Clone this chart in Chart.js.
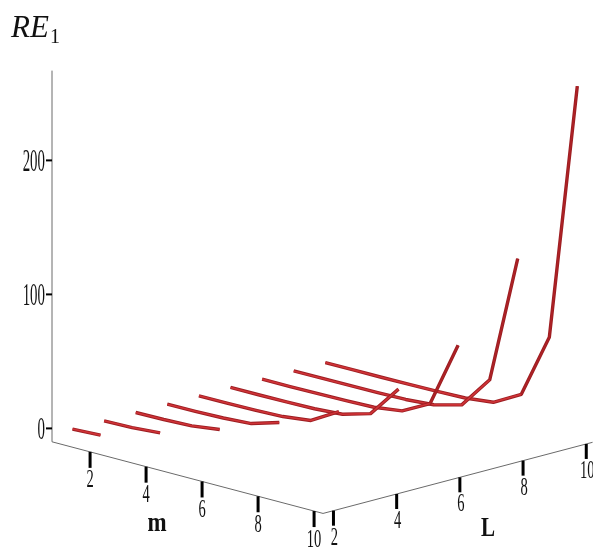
<!DOCTYPE html>
<html><head><meta charset="utf-8">
<script src="https://cdn.jsdelivr.net/npm/chart.js@4"></script>
<style>html,body{margin:0;padding:0;background:#fff}canvas{display:block}</style>
</head><body>
<canvas id="c" width="593" height="547" style="width:593px;height:547px"></canvas>
<script>
// ---- data ----
const L_VALUES = [2, 3, 4, 5, 6, 7, 8, 9, 10];
const RE1_L2  = [0.2, 1.2];
const RE1_L3  = [0.1, 0.6, 2.2];
const RE1_L4  = [0.1, 0.4, 1.2, 4];
const RE1_L5  = [0.1, 0.3, 0.8, 2.2, 8.5];
const RE1_L6  = [0.1, 0.2, 0.5, 1.2, 3.8, 16];
const RE1_L7  = [0.1, 0.2, 0.4, 0.8, 2.2, 8.2, 32];
const RE1_L8  = [0.1, 0.1, 0.3, 0.6, 1.2, 4, 15, 64];
const RE1_L9  = [0, 0.1, 0.2, 0.4, 0.8, 2.4, 7.8, 32, 128];
const RE1_L10 = [0, 0.1, 0.1, 0.3, 0.6, 1.2, 3.5, 15, 63, 256];
const RE1_BY_L = [RE1_L2, RE1_L3, RE1_L4, RE1_L5, RE1_L6, RE1_L7, RE1_L8, RE1_L9, RE1_L10];
const Z_TICKS = [0, 100, 200];
const M_TICKS = [2, 4, 6, 8, 10];
const L_TICKS = [2, 4, 6, 8, 10];
const M_RANGE = [0.64, 10.32];
const L_RANGE = [1.67, 10.2];
const Z_RANGE = [-10, 267];

// ---- view (oblique 3D projection onto the hidden linear scales) ----
const VIEW = {ox: 52, oy: 441.8, mx: 28, my: 7.4, lx: 31.6, ly: -8.34, zy: 1.34, ribbonDy: 1};
function project(m, L, z) {
  const dm = m - M_RANGE[0], dl = L - L_RANGE[0], dz = z - Z_RANGE[0];
  return {x: VIEW.ox + dm * VIEW.mx + dl * VIEW.lx,
          y: VIEW.oy + dm * VIEW.my + dl * VIEW.ly - dz * VIEW.zy};
}

const datasets = [];
L_VALUES.forEach((L, i) => {
  const vals = RE1_BY_L[i];
  const pts = vals.map((z, k) => { const p = project(k + 1, L, z); return {x: p.x, y: p.y + VIEW.ribbonDy}; });
  datasets.push({data: pts, showLine: true, borderColor: '#9c1e22', borderWidth: 3.4,
    pointRadius: 0, fill: false, tension: 0, borderJoinStyle: 'round', borderCapStyle: 'butt', order: L * 2 + 1});
  datasets.push({data: pts, showLine: true, borderWidth: 1.6, pointRadius: 0, fill: false, tension: 0,
    borderJoinStyle: 'round', borderCapStyle: 'butt', order: L * 2, borderColor: '#cf3236',
    segment: {borderColor: c => {
      const dx = Math.abs(c.p1.x - c.p0.x), dy = Math.abs(c.p1.y - c.p0.y);
      return dy > dx * 1.2 ? '#ad2226' : '#d03337';
    }}});
});
// box axes
const zAxis = [project(M_RANGE[0], L_RANGE[0], Z_RANGE[0]), project(M_RANGE[0], L_RANGE[0], Z_RANGE[1])];
const mAxis = [project(M_RANGE[0], L_RANGE[0], Z_RANGE[0]), project(M_RANGE[1], L_RANGE[0], Z_RANGE[0])];
const lAxis = [project(M_RANGE[1], L_RANGE[0], Z_RANGE[0]), project(M_RANGE[1], L_RANGE[1], Z_RANGE[0])];
[zAxis, mAxis, lAxis].forEach(a => datasets.push({data: a, showLine: true, borderColor: '#6a6a6a',
  borderWidth: 1, pointRadius: 0, fill: false, order: 100}));

function narrowText(ctx, text, x, cy, align, size, sx, digitH) {
  ctx.save();
  ctx.translate(x, cy + digitH / 2);
  ctx.scale(sx, 1);
  ctx.font = size + 'px "Liberation Serif"';
  ctx.textAlign = align;
  ctx.textBaseline = 'alphabetic';
  ctx.fillStyle = '#111';
  ctx.fillText(text, 0, 0);
  ctx.restore();
}

const boxLabels = {
  id: 'boxLabels',
  afterDatasetsDraw(chart) {
    const ctx = chart.ctx, sx = chart.scales.x, sy = chart.scales.y;
    const P = (m, L, z) => { const p = project(m, L, z); return {x: sx.getPixelForValue(p.x), y: sy.getPixelForValue(p.y)}; };
    ctx.save();
    ctx.strokeStyle = '#000';
    // z ticks
    ctx.lineWidth = 2;
    Z_TICKS.forEach(t => {
      const p = P(M_RANGE[0], L_RANGE[0], t);
      ctx.beginPath(); ctx.moveTo(p.x - 6, p.y); ctx.lineTo(p.x, p.y); ctx.stroke();
      narrowText(ctx, String(t), p.x - 7, p.y, 'right', 31, 0.48, 21);
    });
    // m ticks
    ctx.lineWidth = 3;
    M_TICKS.forEach(t => {
      const p = P(t, L_RANGE[0], Z_RANGE[0]);
      ctx.beginPath(); ctx.moveTo(p.x, p.y); ctx.lineTo(p.x, p.y + 16); ctx.stroke();
      narrowText(ctx, String(t), p.x, p.y + 27, 'center', 25, 0.58, 17);
    });
    // L ticks
    L_TICKS.forEach(t => {
      const p = P(M_RANGE[1], t, Z_RANGE[0]);
      ctx.beginPath(); ctx.moveTo(p.x, p.y); ctx.lineTo(p.x, p.y + 15); ctx.stroke();
      narrowText(ctx, String(t), p.x + 1, p.y + 25, 'center', 26, 0.56, 18);
    });
    // axis titles
    ctx.fillStyle = '#111';
    ctx.textBaseline = 'alphabetic';
    ctx.save(); ctx.translate(157, 531); ctx.scale(0.85, 1);
    ctx.font = 'bold 27px "Liberation Serif"'; ctx.textAlign = 'center'; ctx.fillText('m', 0, 0); ctx.restore();
    ctx.save(); ctx.translate(488, 536); ctx.scale(0.78, 1);
    ctx.font = 'bold 27px "Liberation Serif"'; ctx.textAlign = 'center'; ctx.fillText('L', 0, 0); ctx.restore();
    ctx.textAlign = 'left';
    ctx.font = 'italic 31px "Liberation Serif"'; ctx.fillText('RE', 11, 37);
    ctx.font = '20px "Liberation Serif"'; ctx.fillText('1', 50, 43);
    ctx.restore();
  }
};

new Chart(document.getElementById('c'), {
  type: 'scatter',
  data: {datasets},
  options: {
    responsive: false, animation: false, devicePixelRatio: 1,
    layout: {padding: 0},
    plugins: {legend: {display: false}, tooltip: {enabled: false}},
    scales: {
      x: {type: 'linear', min: 0, max: 593, display: false},
      y: {type: 'linear', min: 0, max: 547, reverse: true, display: false}
    },
    elements: {point: {radius: 0}}
  },
  plugins: [boxLabels]
});
</script>
</body></html>
